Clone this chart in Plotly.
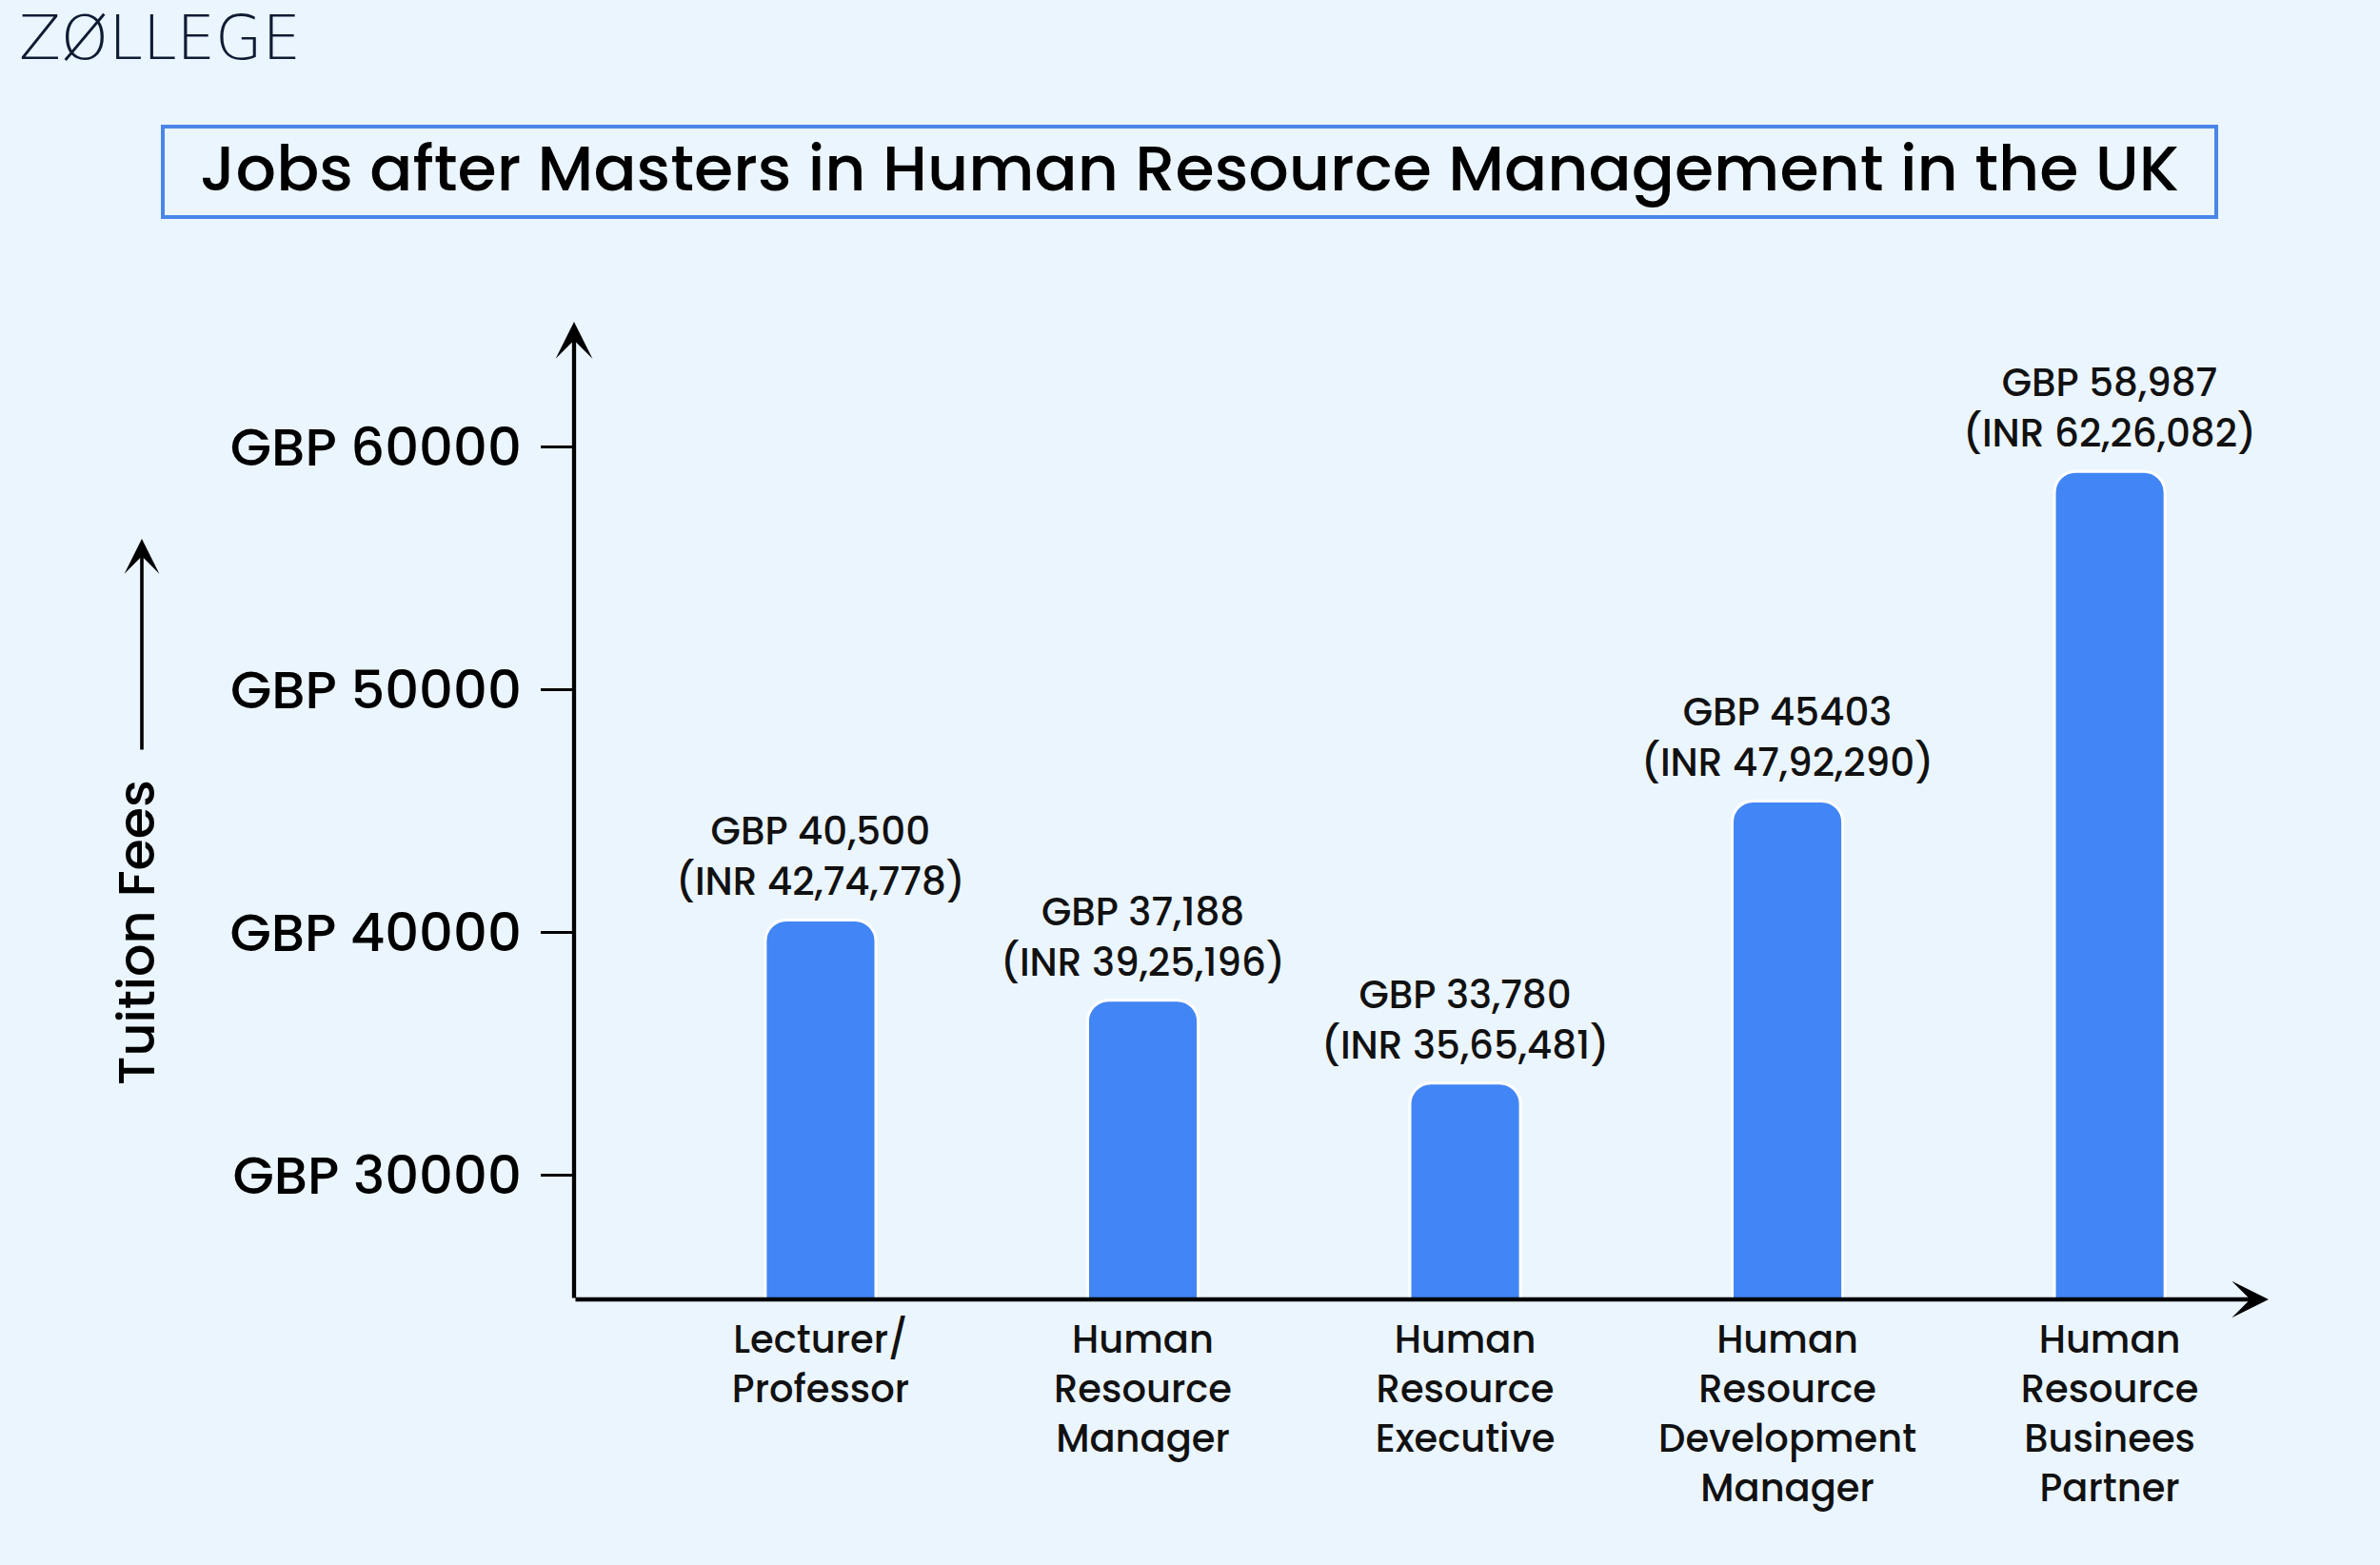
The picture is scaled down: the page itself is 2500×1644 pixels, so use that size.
import plotly.graph_objects as go

# ---------------- data ----------------
categories = [
    "Lecturer/<br>Professor",
    "Human<br>Resource<br>Manager",
    "Human<br>Resource<br>Executive",
    "Human<br>Resource<br>Development<br>Manager",
    "Human<br>Resource<br>Businees<br>Partner",
]
salary_gbp = [40500, 37188, 33780, 45403, 58987]
gbp_labels = ["GBP 40,500", "GBP 37,188", "GBP 33,780", "GBP 45403", "GBP 58,987"]
inr_labels = ["(INR 42,74,778)", "(INR 39,25,196)", "(INR 35,65,481)",
              "(INR 47,92,290)", "(INR 62,26,082)"]
y_tickvals = [30000, 40000, 50000, 60000]
y_ticktext = ["GBP 30000", "GBP 40000", "GBP 50000", "GBP 60000"]
title_text = "Jobs after Masters in Human Resource Management in the UK"
y_title = "Tuition Fees"
logo_text = "ZØLLEGE"

# ---------------- layout geometry ----------------
W, H = 2500, 1644
L, R, T, B = 603, 117, 338, 279
PW, PH = W - L - R, H - T - B
X_RANGE = [-0.765, 4.493]
Y_RANGE = [24861, 65155]

def pxx(xp):
    return (xp - L) / PW

def pxy(yp):
    return (H - B - yp) / PH

FONT = "Poppins, Open Sans, sans-serif"
BG = "#EBF5FE"
BLUE = "#4285F4"

fig = go.Figure()
fig.add_trace(go.Bar(
    x=categories, y=salary_gbp, width=0.343,
    marker=dict(color=BLUE, line=dict(color="white", width=3), cornerradius=22),
    hoverinfo="skip",
))

annotations = []
# bar value labels
LBL_FONT = dict(family=FONT, size=40.5, color="#111111", weight=500)
for c, v, g, i in zip(categories, salary_gbp, gbp_labels, inr_labels):
    annotations.append(dict(
        x=c, y=v, xref="x", yref="y", text=f"{g}<br>{i}", showarrow=False,
        yanchor="bottom", yshift=10, font=LBL_FONT,
    ))

# axis arrows
annotations.append(dict(
    xref="x", yref="y", axref="x", ayref="y",
    x=X_RANGE[0], y=Y_RANGE[1], ax=X_RANGE[0], ay=Y_RANGE[0],
    text="", showarrow=True, arrowhead=3, arrowwidth=4.3, arrowsize=1.5,
    arrowcolor="#000000", standoff=0,
))
annotations.append(dict(
    xref="x", yref="y", axref="x", ayref="y",
    x=X_RANGE[1], y=Y_RANGE[0], ax=X_RANGE[0], ay=Y_RANGE[0],
    text="", showarrow=True, arrowhead=3, arrowwidth=4.3, arrowsize=1.5,
    arrowcolor="#000000", standoff=0,
))

# Tuition fees label and arrow
annotations.append(dict(
    xref="paper", yref="paper", x=pxx(143), y=pxy(979), text=y_title,
    textangle=-90, showarrow=False, xanchor="center", yanchor="middle",
    font=dict(family=FONT, size=54, color="#000000", weight=500),
))
annotations.append(dict(
    xref="paper", yref="paper", x=pxx(149), y=pxy(566), ax=0, ay=223,
    axref="pixel", ayref="pixel",
    text="", showarrow=True, arrowhead=3, arrowwidth=3.6, arrowsize=1.7,
    arrowcolor="#000000", standoff=0,
))

# title
annotations.append(dict(
    xref="paper", yref="paper", x=pxx(1249.5), y=pxy(177), text=title_text,
    showarrow=False, xanchor="center", yanchor="middle",
    font=dict(family=FONT, size=66.7, color="#000000", weight=500),
))

# logo
annotations.append(dict(
    xref="paper", yref="paper", x=pxx(18), y=pxy(40), text=logo_text,
    showarrow=False, xanchor="left", yanchor="middle",
    font=dict(family="DejaVu Sans, sans-serif", size=64, color="#0F1B33", weight=200),
))

shapes = [dict(
    type="rect", xref="paper", yref="paper",
    x0=pxx(171), x1=pxx(2328), y0=pxy(228), y1=pxy(133),
    line=dict(color="#4A86E8", width=4), fillcolor="rgba(0,0,0,0)",
)]

fig.update_layout(
    width=W, height=H,
    margin=dict(l=L, r=R, t=T, b=B, pad=0),
    paper_bgcolor=BG, plot_bgcolor=BG,
    showlegend=False,
    annotations=annotations,
    shapes=shapes,
    font=dict(family=FONT, color="#000000"),
    xaxis=dict(
        type="category", range=X_RANGE, showline=False, showgrid=False,
        zeroline=False, ticks="", ticklabelstandoff=15,
        tickfont=dict(family=FONT, size=40, color="#111111", weight=500),
        fixedrange=True,
    ),
    yaxis=dict(
        range=Y_RANGE, tickvals=y_tickvals, ticktext=y_ticktext,
        showline=False, showgrid=False, zeroline=False,
        ticks="outside", ticklen=34, tickwidth=3, tickcolor="#000000",
        ticklabelstandoff=9,
        tickfont=dict(family=FONT, size=56, color="#000000", weight=500),
        fixedrange=True,
    ),
)

fig.write_html("out.html")
